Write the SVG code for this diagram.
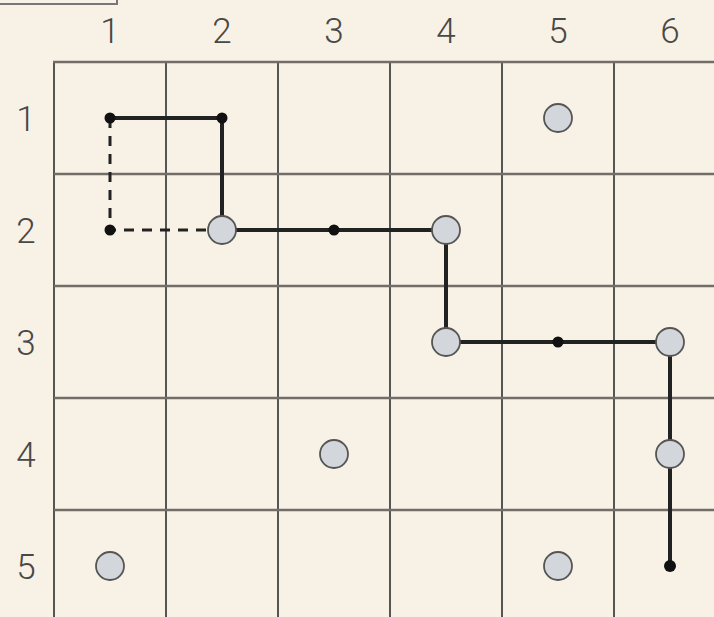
<svg xmlns="http://www.w3.org/2000/svg" width="714" height="617" viewBox="0 0 714 617">
<style>
.lbl{font-family:Roboto,"Liberation Sans",sans-serif;font-weight:300;font-size:35px;fill:#484848;text-anchor:middle}
.v{stroke:#555;stroke-width:2}
.h{stroke:#716d67;stroke-width:2.5}
.path{fill:none;stroke:#222;stroke-width:4}
.dash{fill:none;stroke:#222;stroke-width:3;stroke-dasharray:10 8}
.node circle.big{fill:#d3d6da;stroke:#555;stroke-width:1.8}
.node circle.dot{fill:#111}
</style>
<rect width="714" height="617" fill="#f8f1e5"/>
<rect x="-4" y="-20" width="121" height="24" fill="none" stroke="#777" stroke-width="2"/>
<g id="grid">
<line class="v" x1="54" y1="62" x2="54" y2="617"/>
<line class="v" x1="166" y1="62" x2="166" y2="617"/>
<line class="v" x1="278" y1="62" x2="278" y2="617"/>
<line class="v" x1="390" y1="62" x2="390" y2="617"/>
<line class="v" x1="502" y1="62" x2="502" y2="617"/>
<line class="v" x1="614" y1="62" x2="614" y2="617"/>
<line class="h" x1="53" y1="62" x2="714" y2="62"/>
<line class="h" x1="54" y1="174" x2="714" y2="174"/>
<line class="h" x1="54" y1="286" x2="714" y2="286"/>
<line class="h" x1="54" y1="398" x2="714" y2="398"/>
<line class="h" x1="54" y1="510" x2="714" y2="510"/>
</g>
<g id="labels">
<text class="lbl" x="110" y="43">1</text>
<text class="lbl" x="222" y="43">2</text>
<text class="lbl" x="334" y="43">3</text>
<text class="lbl" x="446" y="43">4</text>
<text class="lbl" x="558" y="43">5</text>
<text class="lbl" x="670" y="43">6</text>
<text class="lbl" x="26" y="131">1</text>
<text class="lbl" x="26" y="243">2</text>
<text class="lbl" x="26" y="355">3</text>
<text class="lbl" x="26" y="467">4</text>
<text class="lbl" x="26" y="579">5</text>
</g>
<g id="connectors">
<polyline class="path" points="110,118 222,118 222,230 446,230 446,342 670,342 670,566"/>
<polyline class="dash" points="110,118 110,230 222,230"/>
</g>
<g id="n-1-1" class="node"><circle class="dot" cx="110" cy="118" r="5.5"/></g>
<g id="n-2-1" class="node"><circle class="dot" cx="222" cy="118" r="5.5"/></g>
<g id="n-1-2" class="node"><circle class="dot" cx="110" cy="230" r="5.5"/></g>
<g id="n-3-2" class="node"><circle class="dot" cx="334" cy="230" r="5.5"/></g>
<g id="n-5-3" class="node"><circle class="dot" cx="558" cy="342" r="5.5"/></g>
<g id="n-6-5" class="node"><circle class="dot" cx="670" cy="566" r="6"/></g>
<g id="c-2-2" class="node"><circle class="big" cx="222" cy="230" r="14"/></g>
<g id="c-4-2" class="node"><circle class="big" cx="446" cy="230" r="14"/></g>
<g id="c-4-3" class="node"><circle class="big" cx="446" cy="342" r="14"/></g>
<g id="c-6-3" class="node"><circle class="big" cx="670" cy="342" r="14"/></g>
<g id="c-6-4" class="node"><circle class="big" cx="670" cy="454" r="14"/></g>
<g id="c-5-1" class="node"><circle class="big" cx="558" cy="118" r="14"/></g>
<g id="c-3-4" class="node"><circle class="big" cx="334" cy="454" r="14"/></g>
<g id="c-1-5" class="node"><circle class="big" cx="110" cy="566" r="14"/></g>
<g id="c-5-5" class="node"><circle class="big" cx="558" cy="566" r="14"/></g>
</svg>
